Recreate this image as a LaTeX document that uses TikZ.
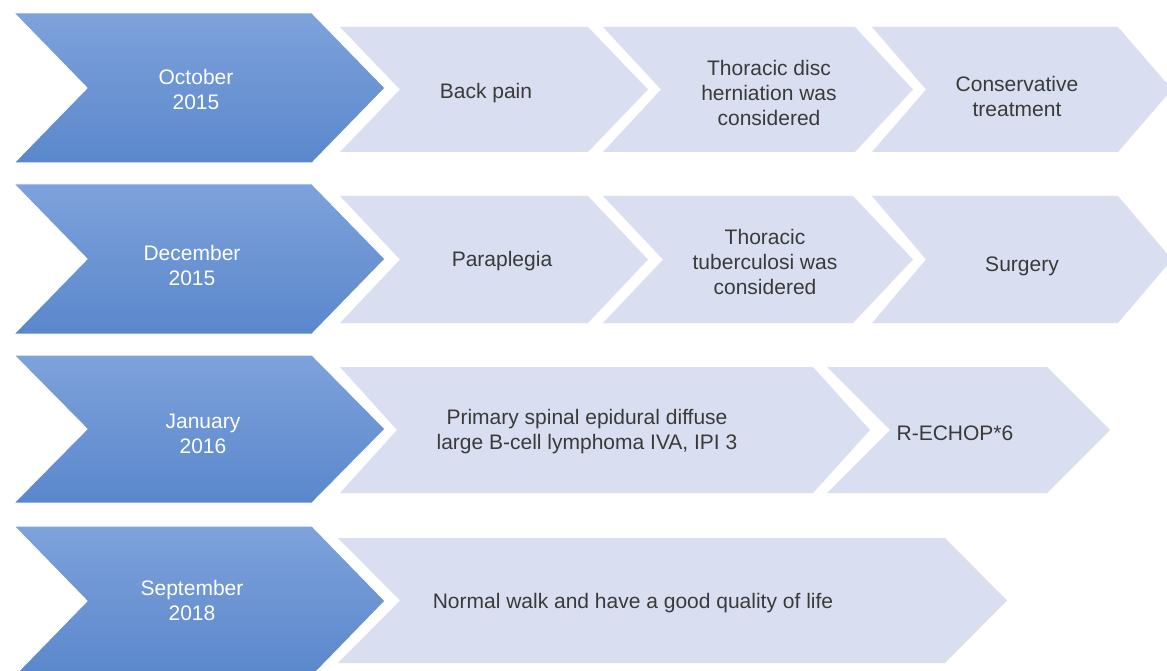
\documentclass[tikz,border=0pt]{standalone}
\usepackage{fontspec}
\setmainfont{Liberation Sans}
\definecolor{darktop}{RGB}{126,162,219}
\definecolor{darkbot}{RGB}{90,135,204}
\definecolor{lightfill}{RGB}{217,223,240}
\definecolor{lighttext}{RGB}{58,58,58}
\newcommand\chev[6]{\path[#1] (#2,#4-#5) -- (#3,#4-#5) -- (#3+#6,#4) -- (#3,#4+#5) -- (#2,#4+#5) -- (#2+#6,#4) -- cycle;}
\tikzset{
  darkchev/.style={top color=darktop,bottom color=darkbot,draw=white,line width=1pt},
  lightchev/.style={fill=lightfill},
  datetext/.style={text=white,font=\fontsize{21}{25}\selectfont,align=center,inner sep=0pt},
  evtext/.style={text=lighttext,font=\fontsize{21}{25}\selectfont,align=center,inner sep=0pt}
}
\begin{document}
\begin{tikzpicture}[x=1pt,y=-1pt]
\useasboundingbox (0,0) rectangle (1167,671);
\fill[white] (0,0) rectangle (1167,671);
\begin{scope}
\clip (0,0) rectangle (1167,671);
% Row 1
\chev{lightchev}{340}{588}{89.5}{62.5}{60}
\chev{lightchev}{603}{855}{89.5}{62.5}{58}
\chev{lightchev}{872}{1118}{89.5}{62.5}{54}
\chev{darkchev}{14}{312}{88}{75}{73}
% Row 2
\chev{lightchev}{340}{588}{259.5}{63.5}{60}
\chev{lightchev}{603}{853}{259.5}{63.5}{60}
\chev{lightchev}{872}{1118}{259.5}{63.5}{54}
\chev{darkchev}{14}{312}{259}{75}{73}
% Row 3
\chev{lightchev}{340}{813}{430}{63}{57}
\chev{lightchev}{827}{1047}{430}{63}{63}
\chev{darkchev}{14}{312}{429}{74}{73}
% Row 4
\chev{lightchev}{338}{945}{600.5}{62.5}{62}
\chev{darkchev}{14}{312}{601}{75}{73}
\end{scope}
% Texts
\node[datetext] (d1) at (196,89) {October\\2015};
\node[datetext] (d2) at (192,265) {December\\2015};
\node[datetext] (d3) at (203,434) {January\\2016};
\node[datetext] (d4) at (192,600) {September\\2018};
\node[evtext] (e11) at (486,93) {Back pain};
\node[evtext] (e12) at (769,93) {Thoracic disc\\herniation was\\considered};
\node[evtext] (e13) at (1017,96) {Conservative\\treatment};
\node[evtext] (e21) at (502,261) {Paraplegia};
\node[evtext] (e22) at (765,262) {Thoracic\\tuberculosi was\\considered};
\node[evtext] (e23) at (1022,266) {Surgery};
\node[evtext] (e31) at (587,432) {Primary spinal epidural diffuse\\large B-cell lymphoma IVA, IPI 3};
\node[evtext] (e32) at (955,433) {R-ECHOP*6};
\node[evtext] (e41) at (633,603) {Normal walk and have a good quality of life};
\end{tikzpicture}
\end{document}
